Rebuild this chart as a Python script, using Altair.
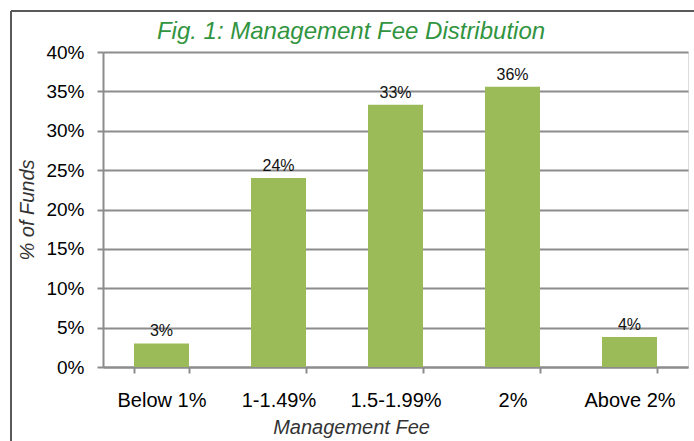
import altair as alt
import pandas as pd

categories = ["Below 1%", "1-1.49%", "1.5-1.99%", "2%", "Above 2%"]
values = [3.0, 24.0, 33.3, 35.6, 3.8]
y_ticks = [0, 5, 10, 15, 20, 25, 30, 35, 40]
title_text = "Fig. 1: Management Fee Distribution"

df = pd.DataFrame({"cat": categories, "pct": values})

FONT = "Liberation Sans"
GRID = "#8c8c8c"
W, H = 585, 315

x_enc = alt.X(
    "cat:N",
    sort=categories,
    scale=alt.Scale(paddingInner=0.53, paddingOuter=0.265),
    axis=alt.Axis(
        title="Management Fee",
        titleFont=FONT,
        titleFontSize=20,
        titleFontStyle="italic",
        titleFontWeight="normal",
        titleColor="#333333",
        titleX=248,
        titleY=66,
        titleBaseline="alphabetic",
        labelAngle=0,
        labelFont=FONT,
        labelFontSize=20,
        labelColor="#000000",
        labelPadding=17,
        tickBand="extent",
        tickSize=6,
        tickColor=GRID,
        tickWidth=2,
        domainColor=GRID,
        domainWidth=2,
    ),
)

y_enc = alt.Y(
    "pct:Q",
    scale=alt.Scale(domain=[0, 40], nice=False),
    axis=alt.Axis(
        title="% of Funds",
        titleFont=FONT,
        titleFontSize=20,
        titleFontStyle="italic",
        titleFontWeight="normal",
        titleColor="#333333",
        titleX=-76,
        titleBaseline="middle",
        values=y_ticks,
        tickCount=len(y_ticks),
        labelOverlap=False,
        labelExpr="datum.value + '%'",
        labelFont=FONT,
        labelFontSize=19,
        labelColor="#000000",
        labelPadding=13,
        tickSize=6,
        tickColor=GRID,
        tickWidth=2,
        domainColor=GRID,
        domainWidth=2,
        gridColor=GRID,
        gridWidth=2,
    ),
)

bars = alt.Chart(df).mark_bar(color="#9BBB59").encode(x=x_enc, y=y_enc)

labels = (
    alt.Chart(df)
    .transform_calculate(lbl="format(datum.pct, '.0f') + '%'")
    .mark_text(font=FONT, fontSize=16, color="#111111", baseline="alphabetic", dy=-7)
    .encode(x=x_enc, y=y_enc, text="lbl:N")
)

title_mark = (
    alt.Chart(pd.DataFrame({"t": [title_text]}))
    .mark_text(
        font=FONT,
        fontSize=24,
        fontStyle="italic",
        color="#31943F",
        align="center",
        baseline="alphabetic",
    )
    .encode(x=alt.value(248), y=alt.value(-13), text="t:N")
)

frame_left = alt.Chart(df).mark_rule(color="#5a5a5a", strokeWidth=2).encode(
    x=alt.value(-92), y=alt.value(-41), y2=alt.value(400)
)
frame_top = alt.Chart(df).mark_rule(color="#5a5a5a", strokeWidth=2).encode(
    x=alt.value(-92), x2=alt.value(600), y=alt.value(-41)
)

chart = (
    alt.layer(bars, labels, title_mark, frame_left, frame_top)
    .properties(
        width=W,
        height=H,
        autosize=alt.AutoSizeParams(type="none"),
        padding={"left": 103, "top": 52, "right": 6, "bottom": 74},
    )
    .configure_view(stroke=None)
    .configure(background="white")
)

chart.save("out.html", embed_options={"renderer": "svg", "actions": False})
